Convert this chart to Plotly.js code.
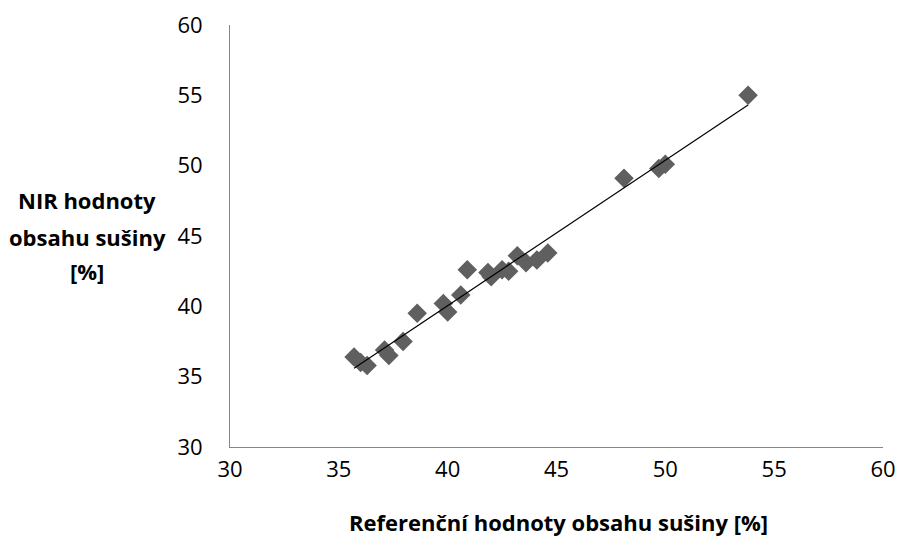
<!DOCTYPE html>
<html><head><meta charset="utf-8">
<script src="https://cdn.plot.ly/plotly-3.0.1.min.js"></script>
<style>html,body{margin:0;padding:0;background:#fff}#c{width:903px;height:537px}</style>
</head><body><div id="c"></div>
<script>
const refValues = [35.7, 36.0, 36.3, 37.1, 37.3, 37.95, 38.6, 39.8, 40.0, 40.6, 40.9, 41.85, 42.0, 42.5, 42.8, 43.2, 43.6, 44.1, 44.6, 48.1, 49.7, 50.0, 53.8];
const nirValues = [36.4, 36.0, 35.8, 36.9, 36.5, 37.5, 39.5, 40.2, 39.6, 40.8, 42.6, 42.4, 42.1, 42.6, 42.5, 43.6, 43.1, 43.3, 43.8, 49.1, 49.8, 50.1, 55.0];
const tickVals = [30, 35, 40, 45, 50, 55, 60];
const xTitle = 'Referenční hodnoty obsahu sušiny [%]';
const yTitleLines = ['NIR hodnoty', 'obsahu sušiny', '[%]'];

// linear trendline (least squares) over the data range
const n = refValues.length;
const mx = refValues.reduce((a,b)=>a+b,0)/n, my = nirValues.reduce((a,b)=>a+b,0)/n;
let sxy=0, sxx=0;
for (let i=0;i<n;i++){ sxy += (refValues[i]-mx)*(nirValues[i]-my); sxx += (refValues[i]-mx)**2; }
const slope = sxy/sxx, icpt = my - slope*mx;
const xmin = Math.min(...refValues), xmax = Math.max(...refValues);

const fam = 'Open Sans, sans-serif';
const tickFont = {family: fam, size: 22, color: '#000'};
const titleFont = {family: fam, size: 22, color: '#000', weight: 'bold'};
const L = 230, T = 25, W = 653, H = 422;
const yTitleY = [200, 237, 271];
const annotations = yTitleLines.map((t, i) => ({
  text: t, xref: 'paper', yref: 'paper', x: (87 - L) / W, y: 1 - (yTitleY[i] - T) / H,
  xanchor: 'center', yanchor: 'middle', showarrow: false, font: titleFont
}));
annotations.push({text: xTitle, xref: 'paper', yref: 'paper', x: (558 - L) / W, y: 1 - (522 - T) / H,
  xanchor: 'center', yanchor: 'middle', showarrow: false, font: titleFont});
Plotly.newPlot('c', [
  {x: refValues, y: nirValues, type: 'scatter', mode: 'markers',
   marker: {symbol: 'diamond', size: 15, color: '#5f5f5f'}, hoverinfo: 'skip'},
  {x: [xmin, xmax], y: [slope*xmin+icpt, slope*xmax+icpt], type: 'scatter', mode: 'lines',
   line: {color: '#000', width: 1.2}, hoverinfo: 'skip'}
], {
  width: 903, height: 537, showlegend: false,
  paper_bgcolor: '#fff', plot_bgcolor: '#fff', font: tickFont,
  margin: {l: L, r: 903 - L - W, t: T, b: 537 - T - H},
  xaxis: {range: [30, 60], tickvals: tickVals, showgrid: false, zeroline: false,
    showline: true, linecolor: '#868686', linewidth: 1, ticks: '', ticklen: 0, tickfont: tickFont,
    ticklabelstandoff: 3},
  yaxis: {range: [30, 60], tickvals: tickVals, showgrid: false, zeroline: false,
    showline: true, linecolor: '#868686', linewidth: 1, ticks: '', ticklen: 0, tickfont: tickFont,
    ticklabelstandoff: 22},
  annotations: annotations
}, {staticPlot: true});
</script></body></html>
